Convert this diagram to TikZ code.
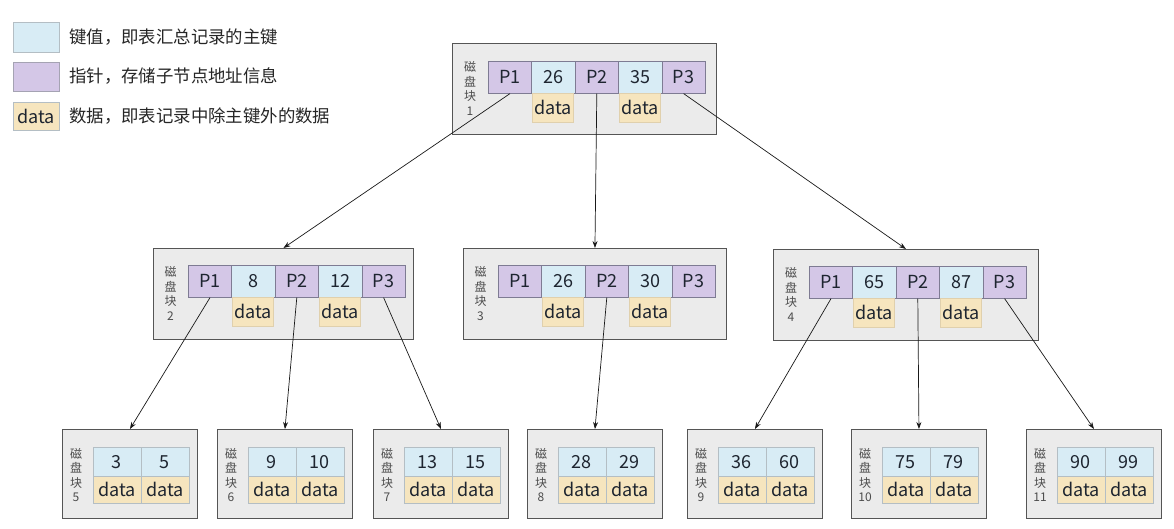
\documentclass[tikz,border=0pt]{standalone}
\usepackage{fontspec}
\setmainfont{Noto Sans CJK SC}
\usetikzlibrary{arrows.meta}
\definecolor{blkfill}{HTML}{EBEBEB}
\definecolor{blkdraw}{HTML}{555555}
\definecolor{ptrfill}{HTML}{D4C7E7}
\definecolor{keyfill}{HTML}{D8ECF5}
\definecolor{datfill}{HTML}{F6E5BE}
\definecolor{celldraw}{HTML}{7E7B93}
\definecolor{leafdraw}{HTML}{B4BEC4}
\definecolor{txt}{HTML}{1E2530}
\tikzset{
  midblk/.style={draw=blkdraw, fill=blkfill, line width=0.9pt, anchor=north west, inner sep=0pt, minimum height=91pt},
  leafblk/.style={draw=blkdraw, fill=blkfill, line width=0.9pt, anchor=north west, inner sep=0pt, minimum width=135pt, minimum height=89pt},
  cellbox/.style={anchor=north west, inner sep=0pt, minimum width=43.4pt, minimum height=32pt, text=txt, font=\fontsize{18}{20}\selectfont, line width=0.6pt},
  ptr/.style={cellbox, fill=ptrfill, draw=celldraw},
  key/.style={cellbox, fill=keyfill, draw=celldraw},
  dat/.style={cellbox, fill=datfill, draw=datfill!85!black!60!datfill, minimum width=41pt, minimum height=29pt},
  lkey/.style={cellbox, fill=keyfill, draw=leafdraw, minimum width=48pt, minimum height=29pt},
  ldat/.style={cellbox, fill=datfill, draw=leafdraw, minimum width=48pt, minimum height=27pt},
  lbl/.style={align=center, inner sep=0pt, text=black!70, font=\fontsize{12}{14.5}\selectfont},
  legbox/.style={anchor=north west, inner sep=0pt, minimum width=46pt, text=txt, font=\fontsize{18}{20}\selectfont, line width=0.6pt},
  legtxt/.style={anchor=west, inner sep=0pt, text=black!85, font=\fontsize{17.4}{20}\selectfont},
  conn/.style={draw=black!90, line width=0.7pt, -{Stealth[length=7pt,width=5pt]}}
}
% #1 name, #2 bx, #3 by, #4 bw, #5 cx, #6 cy, #7 num, #8 key1, #9 key2
\newcommand\mblock[9]{%
  \node[midblk, minimum width=#4pt] (#1) at (#2,#3) {};
  \node[lbl] (#1l) at ({(#2+#5)/2},{#3+45.5}) {磁\\盘\\块\\#7};
  \node[ptr] (#1p1) at (#5,#6) {P1};
  \node[key] (#1k1) at (#5+43.4,#6) {#8};
  \node[ptr] (#1p2) at (#5+86.8,#6) {P2};
  \node[key] (#1k2) at (#5+130.2,#6) {#9};
  \node[ptr] (#1p3) at (#5+173.6,#6) {P3};
  \node[dat] (#1d1) at (#5+44.4,#6+32) {data};
  \node[dat] (#1d2) at (#5+131.2,#6+32) {data};
}
% #1 name, #2 x, #3 num, #4 key1, #5 key2
\newcommand\lblock[5]{%
  \node[leafblk] (#1) at (#2,429) {};
  \node[lbl] (#1l) at (#2+14,475) {磁\\盘\\块\\#3};
  \node[lkey] (#1k1) at (#2+30.5,447) {#4};
  \node[lkey] (#1k2) at (#2+78.5,447) {#5};
  \node[ldat] (#1d1) at (#2+30.5,476) {data};
  \node[ldat] (#1d2) at (#2+78.5,476) {data};
}
\begin{document}
\begin{tikzpicture}[x=1pt,y=-1pt]
\fill[white] (0,0) rectangle (1174,528);
\useasboundingbox (0,0) rectangle (1174,528);

% legend
\node[legbox, fill=keyfill, draw=leafdraw, minimum height=30pt] (lg1) at (13,22) {};
\node[legtxt] (lt1) at (69,37) {键值，即表汇总记录的主键};
\node[legbox, fill=ptrfill, draw=celldraw!70, minimum height=29pt] (lg2) at (13,62) {};
\node[legtxt] (lt2) at (69,76.5) {指针，存储子节点地址信息};
\node[legbox, fill=datfill, draw=leafdraw, minimum height=28pt] (lg3) at (13,102) {data};
\node[legtxt] (lt3) at (69,116) {数据，即表记录中除主键外的数据};

% root and middle blocks
\mblock{b1}{452}{43}{264}{488}{61}{1}{26}{35}
\mblock{b2}{153}{248}{260}{188}{265}{2}{8}{12}
\mblock{b3}{463}{248}{263}{498}{265}{3}{26}{30}
\mblock{b4}{773}{249}{265}{809}{266}{4}{65}{87}

% leaves
\lblock{b5}{62}{5}{3}{5}
\lblock{b6}{217}{6}{9}{10}
\lblock{b7}{373}{7}{13}{15}
\lblock{b8}{527}{8}{28}{29}
\lblock{b9}{687}{9}{36}{60}
\lblock{b10}{851}{10}{75}{79}
\lblock{b11}{1026}{11}{90}{99}

% connectors
\draw[conn] (b1p1.south) -- (b2.north);
\draw[conn] (b1p2.south) -- (b3.north);
\draw[conn] (b1p3.south) -- (b4.north);
\draw[conn] (b2p1.south) -- (b5.north);
\draw[conn] (b2p2.south) -- (b6.north);
\draw[conn] (b2p3.south) -- (b7.north);
\draw[conn] (b3p2.south) -- (b8.north);
\draw[conn] (b4p1.south) -- (b9.north);
\draw[conn] (b4p2.south) -- (b10.north);
\draw[conn] (b4p3.south) -- (b11.north);
\end{tikzpicture}
\end{document}
